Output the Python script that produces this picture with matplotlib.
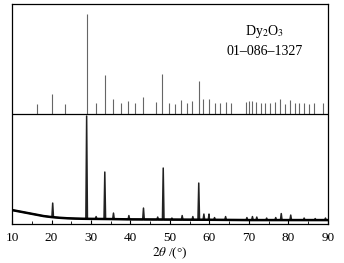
import numpy as np
import matplotlib.pyplot as plt
from matplotlib.ticker import MultipleLocator

plt.rcParams['font.family'] = ['Liberation Serif', 'DejaVu Serif']
plt.rcParams['mathtext.fontset'] = 'stix'

# reference card 01-086-1327 (Dy2O3): 2theta and relative intensity
ref_pos = [16.4, 20.2, 23.5, 28.9, 31.3, 33.5, 35.6, 37.5, 39.5, 41.2, 43.2,
           46.5, 48.1, 49.7, 51.2, 52.7, 54.2, 55.6, 57.3, 58.5, 59.9, 61.3,
           62.7, 64.1, 65.4, 69.2, 70.1, 70.9, 71.8, 73.0, 74.2, 75.4, 76.7,
           77.9, 79.2, 80.4, 81.6, 82.7, 84.0, 85.3, 86.4, 88.9]
ref_int = [10, 20, 10, 100, 11, 39, 15, 11, 13, 11, 17,
           12, 40, 11, 10, 14, 11, 13, 33, 15, 15, 11,
           11, 12, 11, 12, 13, 13, 12, 11, 11, 11, 12,
           15, 10, 14, 11, 11, 11, 10, 11, 11]

# measured pattern: background and peak tops (same units as the plot)
bg_x = [10, 12, 14, 16, 18, 20, 22, 24, 26, 28, 30, 35, 40, 50, 60, 70, 80, 90]
bg_y = [14, 12.5, 11, 9.5, 8, 7, 6.3, 5.8, 5.5, 5.3, 5.2, 5, 4.7, 4.5, 4.3, 4, 4, 4]
pk_x = [20.3, 28.9, 31.3, 33.5, 35.7, 39.6, 43.3, 46.9, 48.3, 50.5, 53.1,
        55.8, 57.3, 58.6, 59.9, 61.3, 64.1, 69.5, 70.9, 72.0, 74.5, 76.8,
        78.2, 80.6, 84.0, 86.8, 89.4]
pk_y = [21, 108, 7.5, 52, 11, 8.5, 16, 7, 56, 6, 8.5,
        7.5, 41, 10, 10, 6.5, 7.5, 6.5, 7.5, 7, 6, 6.5,
        10.5, 9, 6, 5.5, 6]

base = 110  # offset of the reference sticks

fig = plt.figure(figsize=(3.44, 2.63), dpi=100)
ax = fig.add_axes([0.035, 0.148, 0.918, 0.837])

# sticks
ax.vlines(ref_pos, base, base + np.array(ref_int), color='#666666', lw=0.8)
ax.axhline(base, color='black', lw=0.9)

# measured curve
xs = list(bg_x)
ys = list(bg_y)
for p, h in zip(pk_x, pk_y):
    for dx in (-0.2, 0.2):
        xs.append(p + dx)
        ys.append(np.interp(p + dx, bg_x, bg_y))
    xs.append(p)
    ys.append(h)
order = np.argsort(xs)
ax.plot(np.array(xs)[order], np.array(ys)[order], color='#222222', lw=1.1)
ax.plot(bg_x, bg_y, color='black', lw=1.8)

ax.text(74, 192, r'Dy$_2$O$_3$', ha='center', va='center', fontsize=10)
ax.text(74, 172, '01–086–1327', ha='center', va='center', fontsize=10)

ax.set_xlim(10, 90)
ax.set_ylim(0, 220)
ax.xaxis.set_major_locator(MultipleLocator(10))
ax.xaxis.set_minor_locator(MultipleLocator(5))
ax.tick_params(axis='x', which='both', direction='in', top=False, labelsize=9.5, pad=6)
ax.tick_params(axis='x', which='major', length=3)
ax.tick_params(axis='x', which='minor', length=2)
ax.set_yticks([])
ax.set_xlabel(r'$2\theta$ /(°)', fontsize=9.5, labelpad=1)
for s in ax.spines.values():
    s.set_linewidth(0.9)

fig.savefig('out.png', dpi=100)
